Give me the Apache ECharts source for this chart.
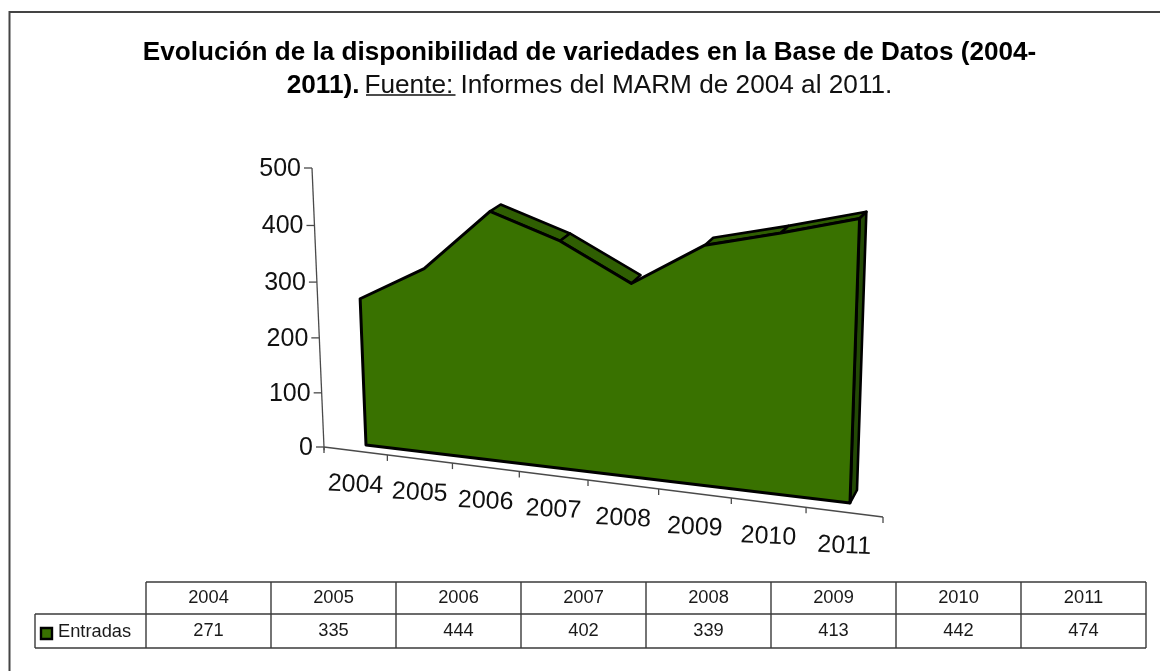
<!DOCTYPE html>
<html><head><meta charset="utf-8">
<style>html,body{margin:0;padding:0;background:#fff}#c{width:1160px;height:671px}</style>
<script src="https://cdn.jsdelivr.net/npm/echarts@6/dist/echarts.min.js"></script>
</head><body><div id="c"></div>
<script>
const categories = ['2004','2005','2006','2007','2008','2009','2010','2011'];
const entradas = [271,335,444,402,339,413,442,474];
const yTicks = [0,100,200,300,400,500];
const seriesName = 'Entradas';
const titleLine1 = 'Evolución de la disponibilidad de variedades en la Base de Datos (2004-';
const titleBold2 = '2011).';
const titleLink2 = 'Fuente:';
const titleRest2 = 'Informes del MARM de 2004 al 2011.';

const FONT = '"Liberation Sans", Arial, sans-serif';
const GREEN = '#397200', TOP = '#2f5e02', SIDE = '#234a05', INK = '#111';
const G = {left:100,top:100,width:800,height:400};
const persp = {g:-0.09,h:-0.04};
const hiddenRise = 50; // top faces of steeper rises face away from the viewer

function plane(p00,p10,p01,g,h){
  const ax=p10[0]*(1+g)-p00[0], bx=p01[0]*(1+h)-p00[0];
  const ay=p10[1]*(1+g)-p00[1], by=p01[1]*(1+h)-p00[1];
  return (u,v)=>{const w=1+g*u+h*v;return [(p00[0]+ax*u+bx*v)/w,(p00[1]+ay*u+by*v)/w];};
}
const wall  = plane([324,447],[883,517],[312,168],-0.105,-0.0365);
const front = plane([366,445],[850,503],[355,170],persp.g,persp.h);
const back  = plane([378,433],[857,490],[367,164],persp.g,persp.h);

const n = categories.length;
function uv(api,i,val){
  const p = api.coord([i,val]);
  return [(p[0]-G.left)/G.width,(G.top+G.height-p[1])/G.height];
}
function onFace(face,api,i,val){
  const q=uv(api,i,val);
  const u=(q[0]-0.5/n)/((n-1)/n);
  return face(u,q[1]);
}
function poly(points,fill,lw){
  return {type:'polygon',shape:{points},style:{fill,stroke:'#000',lineWidth:lw,lineJoin:'round'}};
}
function line(a,b,color,lw){
  return {type:'line',shape:{x1:a[0],y1:a[1],x2:b[0],y2:b[1]},style:{stroke:color,lineWidth:lw}};
}
function areaItem(params,api){
  if(params.dataIndex!==0) return null;
  const kids=[];
  for(let i=0;i<n-1;i++){
    if(entradas[i+1]-entradas[i]>hiddenRise) continue;
    kids.push(poly([onFace(front,api,i,entradas[i]),onFace(front,api,i+1,entradas[i+1]),
      onFace(back,api,i+1,entradas[i+1]),onFace(back,api,i,entradas[i])],TOP,2.6));
  }
  kids.push(poly([onFace(front,api,n-1,0),onFace(front,api,n-1,entradas[n-1]),
    onFace(back,api,n-1,entradas[n-1]),onFace(back,api,n-1,0)],SIDE,2.6));
  const pts=[onFace(front,api,0,0)];
  for(let i=0;i<n;i++) pts.push(onFace(front,api,i,entradas[i]));
  pts.push(onFace(front,api,n-1,0));
  kids.push(poly(pts,GREEN,3));
  return {type:'group',children:kids};
}
function axisItem(params,api){
  if(params.dataIndex!==0) return null;
  const kids=[];
  const C='#4a4a4a';
  kids.push(line(wall(0,1),wall(0,-0.012),C,1.3));
  kids.push(line(wall(0,0),wall(1,0),C,1.3));
  yTicks.forEach(t=>{
    const p=api.coord([0,t]);
    const v=(G.top+G.height-p[1])/G.height, a=wall(0,v);
    kids.push(line(a,[a[0]-8,a[1]],C,1.3));
    kids.push({type:'text',style:{text:String(t),x:a[0]-11,y:a[1]+1,align:'right',verticalAlign:'middle',
      font:'25px '+FONT,fill:INK}});
  });
  for(let i=0;i<=n;i++){
    const a=wall(i/n,0);
    kids.push(line(a,[a[0],a[1]+6],C,1.3));
  }
  categories.forEach((c,i)=>{
    const q=uv(api,i,0), a=wall(q[0],0);
    kids.push({type:'text',x:a[0],y:a[1]+34,rotation:-0.045,
      style:{text:c,x:0,y:0,align:'center',verticalAlign:'middle',font:'25px '+FONT,fill:INK}});
  });
  return {type:'group',children:kids};
}

const colX0=146, colW=125, rowY=[582,614,648], rowX0=35;
const tableEls=[];
const rule=(x1,y1,x2,y2)=>tableEls.push({type:'line',shape:{x1,y1,x2,y2},style:{stroke:'#3a3a3a',lineWidth:1.4}});
const right=colX0+colW*n;
rule(colX0,rowY[0],right,rowY[0]);
rule(rowX0,rowY[1],right,rowY[1]);
rule(rowX0,rowY[2],right,rowY[2]);
rule(rowX0,rowY[1],rowX0,rowY[2]);
for(let i=0;i<=n;i++) rule(colX0+colW*i,rowY[0],colX0+colW*i,rowY[2]);
const cell=(text,x,y,align)=>tableEls.push({type:'text',style:{text,x,y,align:align||'center',verticalAlign:'middle',font:'18.3px '+FONT,fill:'#1a1a1a'}});
categories.forEach((c,i)=>{
  cell(c,colX0+colW*(i+0.5),(rowY[0]+rowY[1])/2);
  cell(String(entradas[i]),colX0+colW*(i+0.5),(rowY[1]+rowY[2])/2);
});
cell(seriesName,58,(rowY[1]+rowY[2])/2+1,'left');
tableEls.push({type:'rect',shape:{x:41,y:628,width:11,height:11},style:{fill:GREEN,stroke:'#000',lineWidth:2.4}});

const chart=echarts.init(document.getElementById('c'),null,{renderer:'canvas'});
chart.setOption({
  animation:false,
  backgroundColor:'#fff',
  title:[
    {text:titleLine1,left:584.5,top:35,textAlign:'center',textStyle:{fontFamily:FONT,fontSize:26.1,fontWeight:'bold',color:'#000'}},
    {text:'{b|'+titleBold2+'} {n|'+titleLink2+' '+titleRest2+'}',left:584.5,top:68,textAlign:'center',
      textStyle:{rich:{b:{fontFamily:FONT,fontSize:26.2,fontWeight:'bold',color:'#000'},n:{fontFamily:FONT,fontSize:26.2,fontWeight:'normal',color:'#111'}}}}
  ],
  grid:G,
  xAxis:{type:'category',data:categories,show:false},
  yAxis:{type:'value',min:0,max:500,interval:100,show:false},
  series:[
    {type:'custom',name:'axes',coordinateSystem:'cartesian2d',renderItem:axisItem,data:entradas,silent:true,z:1},
    {type:'custom',name:seriesName,coordinateSystem:'cartesian2d',renderItem:areaItem,data:entradas,silent:true,z:2}
  ],
  graphic:[
    {type:'polyline',z:5,shape:{points:[[1160,12],[9.5,12],[9.5,671]]},style:{fill:'none',stroke:'#444',lineWidth:2}},
    {type:'line',z:5,shape:{x1:366,y1:95,x2:455.5,y2:95},style:{stroke:'#111',lineWidth:1.4}},
    ...tableEls
  ]
});
</script></body></html>
